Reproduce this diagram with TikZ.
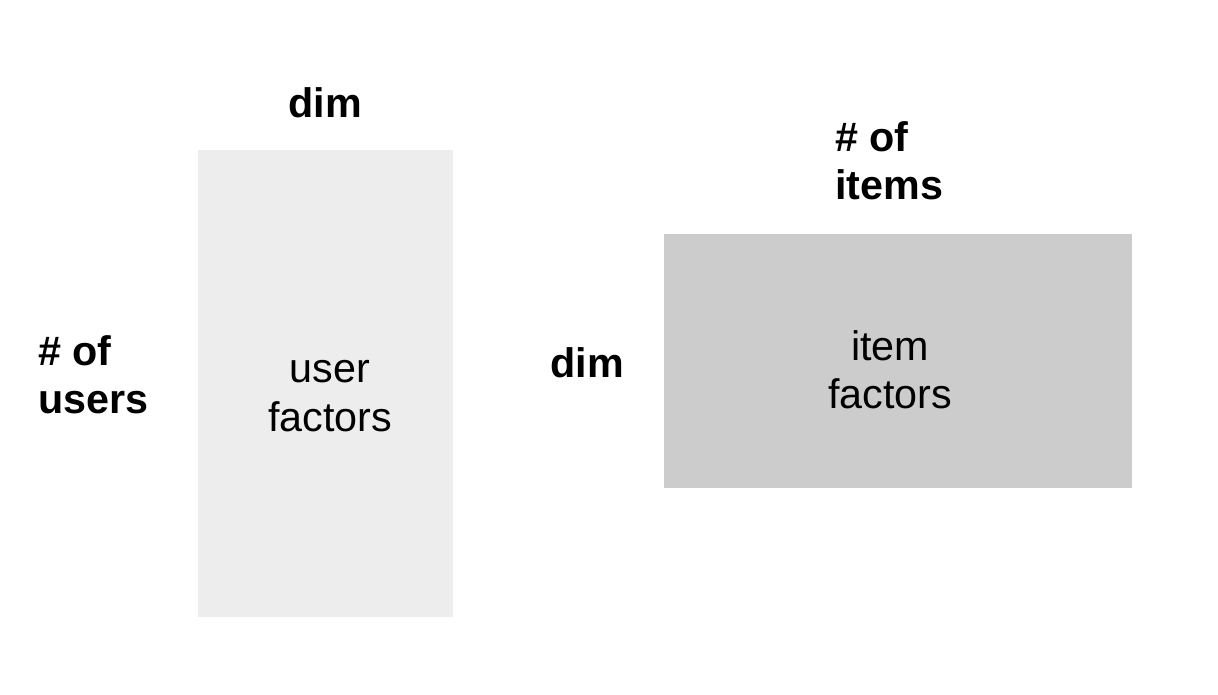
\documentclass[tikz,border=0pt]{standalone}
\usepackage{fontspec}
\setmainfont{Liberation Sans}
\usetikzlibrary{positioning}
\definecolor{userfill}{HTML}{EDEDED}
\definecolor{itemfill}{HTML}{CCCCCC}

\begin{document}
\begin{tikzpicture}[x=0.02cm,y=-0.02cm]

	\tikzstyle{matrixbox}=[draw=none, rectangle, inner sep=0pt, anchor=north west]
	\tikzstyle{dimlabel}=[inner sep=0pt, font=\fontsize{23.5}{27.5}\selectfont\bfseries, align=left]
	\tikzstyle{boxtext}=[inner sep=0pt, font=\fontsize{23.5}{27.5}\selectfont, align=center]

	\useasboundingbox (0,0) rectangle (1218,694);

	\node[matrixbox, fill=userfill, minimum width=255*0.02cm, minimum height=467*0.02cm] (U) at (198,150) {};
	\node[matrixbox, fill=itemfill, minimum width=468*0.02cm, minimum height=254*0.02cm] (V) at (664,234) {};

	\node[boxtext] (Utext) at (330,396) {user\\factors};
	\node[boxtext] (Vtext) at (890,370) {item\\factors};

	\node[dimlabel] (Udim) at (325,103) {dim};
	\node[dimlabel, anchor=west] (Urows) at (38,375) {\# of\\users};

	\node[dimlabel] (Vdim) at (587,363) {dim};
	\node[dimlabel, anchor=west] (Vcols) at (835,161) {\# of\\items};

\end{tikzpicture}
\end{document}
